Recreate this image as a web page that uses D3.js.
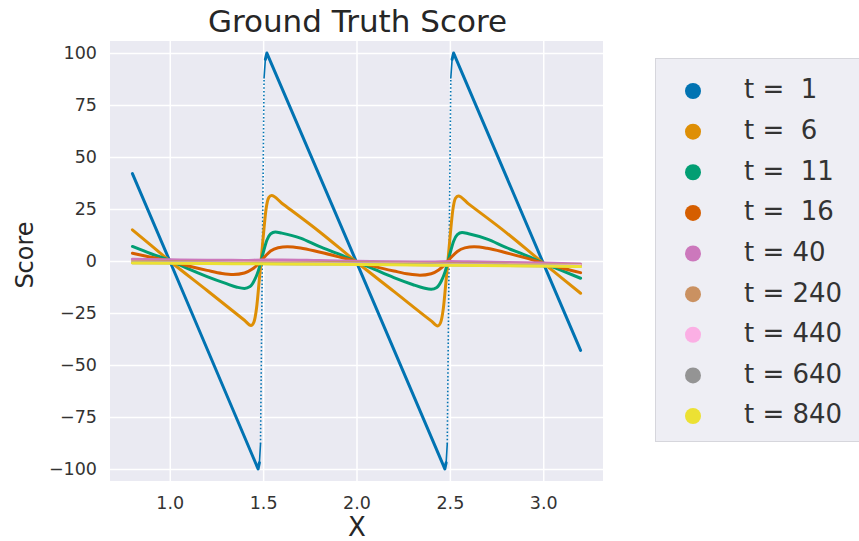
<!DOCTYPE html>
<html>
<head>
<meta charset="utf-8">
<script src="https://cdn.jsdelivr.net/npm/d3@7"></script>
<style>
  body { margin: 0; background: #fff; }
  text { font-family: "DejaVu Sans", sans-serif; }
</style>
</head>
<body>
<script>
// legend labels and colours (seaborn "colorblind")
var tLabels = ["t =  1", "t =  6", "t =  11", "t =  16", "t = 40", "t = 240", "t = 440", "t = 640", "t = 840"];
var colors = ["#0173b2", "#de8f05", "#029e73", "#d55e00", "#cc78bc", "#ca9161", "#fbafe4", "#949494", "#ece133"];

var xTicks = [1.0, 1.5, 2.0, 2.5, 3.0];
var yTicks = [-100, -75, -50, -25, 0, 25, 50, 75, 100];

// [x, score]
var s1 = [[0.8, 42], [1.0, 0], [1.473, -100], [1.48, -97], [1.486, -88], [1.505, 88], [1.512, 97], [1.52, 100],
  [2.0, -0.5], [2.473, -100], [2.48, -97], [2.486, -88], [2.505, 88], [2.512, 97], [2.52, 100], [3.0, -1], [3.2, -43]];
var s6 = [[0.8, 15], [0.9, 7.5], [1.0, 0], [1.2, -14.2], [1.4, -28.5], [1.435, -31], [1.45, -29.5], [1.465, -22.5],
  [1.478, -10.5], [1.49, 1], [1.503, 14], [1.515, 24.5], [1.53, 30.5], [1.545, 31.5], [1.6, 27.8], [1.8, 14.2], [2.0, -0.5],
  [2.2, -14.6], [2.4, -28.8], [2.435, -31.2], [2.45, -29.7], [2.465, -22.8], [2.478, -11], [2.49, 0.5], [2.503, 13.5],
  [2.515, 24], [2.53, 30.2], [2.545, 31.3], [2.6, 27.5], [2.8, 13.8], [3.0, -1], [3.1, -8.2], [3.2, -15.5]];
var s11 = [[0.8, 7], [0.9, 3.5], [1.0, 0.3], [1.1, -3.8], [1.2, -7.5], [1.3, -10.8], [1.36, -12.6], [1.4, -13.2],
  [1.43, -12.3], [1.455, -9], [1.475, -4.5], [1.49, 0.3], [1.505, 5.5], [1.52, 10], [1.54, 13], [1.565, 14], [1.6, 13.4],
  [1.7, 11], [1.8, 7], [1.9, 3.5], [2.0, -0.3], [2.1, -4.2], [2.2, -8], [2.3, -11.3], [2.36, -13], [2.4, -13.6],
  [2.43, -12.7], [2.455, -9.5], [2.475, -5], [2.49, -0.2], [2.505, 5], [2.52, 9.5], [2.54, 12.7], [2.565, 13.7],
  [2.6, 13.1], [2.7, 10.5], [2.8, 6.5], [2.9, 3], [3.0, -1], [3.1, -4.6], [3.2, -8.3]];
var s16 = [[0.8, 3.7], [0.9, 1.8], [1.0, 0], [1.1, -2.4], [1.2, -4.5], [1.28, -6], [1.34, -6.5], [1.4, -5.8],
  [1.44, -4], [1.47, -1.8], [1.49, 0.2], [1.51, 2.2], [1.54, 4.8], [1.58, 6.4], [1.63, 6.9], [1.7, 6.3], [1.8, 4.3],
  [1.9, 2.1], [2.0, -0.2], [2.1, -2.7], [2.2, -4.8], [2.28, -6.3], [2.34, -6.8], [2.4, -6.1], [2.44, -4.3], [2.47, -2],
  [2.49, 0], [2.51, 2], [2.54, 4.6], [2.58, 6.3], [2.63, 6.8], [2.7, 6.1], [2.8, 4], [2.9, 1.6], [3.0, -1], [3.1, -3.4],
  [3.2, -5.6]];
var s40 = [[0.8, 0.9], [1.0, 0.6], [1.2, 0.4], [1.4, 0.3], [1.5, 0.5], [1.6, 0.5], [1.8, 0.2], [2.0, -0.1], [2.2, -0.4],
  [2.4, -0.5], [2.5, -0.3], [2.6, -0.4], [2.8, -0.7], [3.0, -1.0], [3.2, -1.5]];
var s240 = [[0.8, -0.3], [1.2, -0.5], [1.6, -0.7], [2.0, -0.9], [2.4, -1.2], [2.8, -1.5], [3.2, -1.9]];
var s440 = [[0.8, -0.6], [1.2, -0.8], [1.6, -1.0], [2.0, -1.3], [2.4, -1.6], [2.8, -1.9], [3.2, -2.2]];
var s640 = [[0.8, -0.8], [1.2, -1.0], [1.6, -1.3], [2.0, -1.5], [2.4, -1.8], [2.8, -2.1], [3.2, -2.5]];
var s840 = [[0.8, -1.0], [1.2, -1.2], [1.6, -1.4], [2.0, -1.7], [2.4, -2.0], [2.8, -2.3], [3.2, -2.7]];

var series = [s1, s6, s11, s16, s40, s240, s440, s640, s840];

var W = 859, H = 541;
var plot = { left: 110, right: 603, top: 41, bottom: 481 };

var svg = d3.select("body").append("svg")
    .attr("width", W)
    .attr("height", H);

var x = d3.scaleLinear().domain([0.68, 3.32]).range([plot.left, plot.right]);
var y = d3.scaleLinear().domain([-105.8, 105.8]).range([plot.bottom, plot.top]);

// axes background + grid
svg.append("rect")
    .attr("x", plot.left).attr("y", plot.top)
    .attr("width", plot.right - plot.left).attr("height", plot.bottom - plot.top)
    .attr("fill", "#eaeaf2");

svg.append("g")
    .attr("transform", "translate(0," + plot.bottom + ")")
    .call(d3.axisBottom(x).tickValues(xTicks).tickFormat(d3.format(".1f"))
        .tickSize(-(plot.bottom - plot.top)).tickPadding(16))
    .call(function (g) {
        g.select(".domain").remove();
        g.selectAll("line").attr("stroke", "#fff").attr("stroke-width", 1.5);
        g.selectAll("text").attr("fill", "#333").style("font-size", "17.5px");
    });

svg.append("g")
    .attr("transform", "translate(" + plot.left + ",0)")
    .call(d3.axisLeft(y).tickValues(yTicks)
        .tickSize(-(plot.right - plot.left)).tickPadding(13))
    .call(function (g) {
        g.select(".domain").remove();
        g.selectAll("line").attr("stroke", "#fff").attr("stroke-width", 1.5);
        g.selectAll("text").attr("fill", "#333").style("font-size", "17.5px");
    });

// split a series into runs by how steep each step is on screen,
// so the near-vertical jumps come out thin / dotted like the scatter
function runs(pts) {
    var out = [], cur = null;
    for (var i = 1; i < pts.length; i++) {
        var dx = Math.abs(x(pts[i][0]) - x(pts[i - 1][0]));
        var dy = Math.abs(y(pts[i][1]) - y(pts[i - 1][1]));
        var k = dy / Math.max(dx, 0.01);
        var kind = k > 40 ? "jump" : k > 12 ? "steep" : "main";
        if (!cur || cur.kind !== kind) {
            cur = { kind: kind, pts: [pts[i - 1]] };
            out.push(cur);
        }
        cur.pts.push(pts[i]);
    }
    return out;
}

// t = 1 is a straight sawtooth, the rest are smooth
var line = d3.line()
    .x(function (d) { return x(d[0]); })
    .y(function (d) { return y(d[1]); });

var lines = svg.append("g")
    .attr("fill", "none")
    .attr("stroke-linecap", "round")
    .attr("stroke-linejoin", "round");

series.forEach(function (s, i) {
    line.curve(i === 0 ? d3.curveLinear : d3.curveMonotoneX);
    runs(s).forEach(function (r) {
        var p = lines.append("path")
            .attr("d", line(r.pts))
            .attr("stroke", colors[i]);
        if (r.kind === "main") p.attr("stroke-width", 3);
        else if (r.kind === "steep") p.attr("stroke-width", 1.6);
        else p.attr("stroke-width", 1.6).attr("stroke-linecap", "butt").attr("stroke-dasharray", "1.5,2.2");
    });
});

// titles
svg.append("text")
    .attr("x", (plot.left + plot.right) / 2 + 1).attr("y", 32)
    .attr("text-anchor", "middle")
    .attr("fill", "#262626")
    .style("font-size", "31px")
    .text("Ground Truth Score");

svg.append("text")
    .attr("x", 357).attr("y", 536)
    .attr("text-anchor", "middle")
    .attr("fill", "#262626")
    .style("font-size", "26px")
    .text("X");

svg.append("text")
    .attr("transform", "translate(33,255) rotate(-90)")
    .attr("text-anchor", "middle")
    .attr("fill", "#262626")
    .style("font-size", "24px")
    .text("Score");

// legend
var legend = svg.append("g");
legend.append("rect")
    .attr("x", 655.5).attr("y", 58.5)
    .attr("width", 220).attr("height", 383)
    .attr("fill", "#eeeef4")
    .attr("stroke", "#d6d6dc");

var row = d3.scalePoint().domain(tLabels).range([89, 414]);

var items = legend.selectAll("g.item")
    .data(tLabels)
    .enter().append("g")
    .attr("class", "item")
    .attr("transform", function (d) { return "translate(0," + row(d) + ")"; });

items.append("circle")
    .attr("cx", 693).attr("cy", 2)
    .attr("r", 8)
    .attr("fill", function (d, i) { return colors[i]; });

items.append("text")
    .attr("x", 744).attr("y", 0)
    .attr("dy", "0.36em")
    .attr("fill", "#333")
    .style("font-size", "26px")
    .style("white-space", "pre")
    .text(function (d) { return d; });
</script>
</body>
</html>
